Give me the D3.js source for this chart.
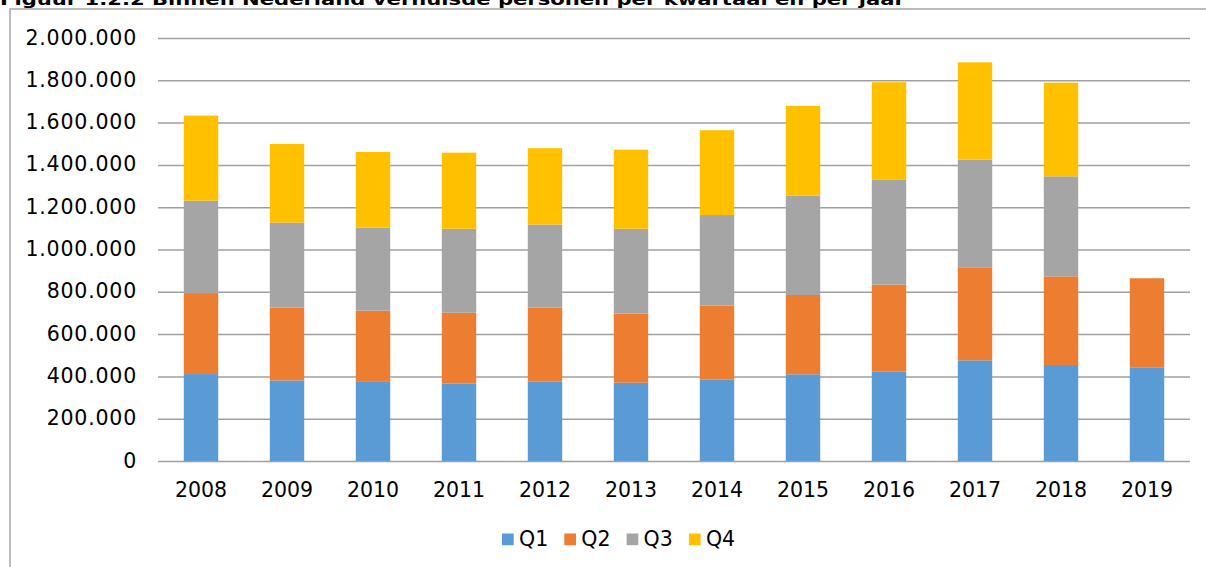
<!DOCTYPE html>
<html>
<head>
<meta charset="utf-8">
<script src="https://cdn.jsdelivr.net/npm/d3@7"></script>
<style>
    body { margin: 0; background: #fff; }
    svg { display: block; font-family: "DejaVu Sans", Verdana, sans-serif; }
</style>
</head>
<body>
<div id="chart"></div>
<script>
// ============================================================
// Data
// ============================================================
const YEARS = ['2008', '2009', '2010', '2011', '2012', '2013', '2014', '2015', '2016', '2017', '2018', '2019'];
const Q1 = [411000, 381000, 374000, 367000, 375000, 370000, 386000, 410000, 424000, 476000, 454000, 443000];
const Q2 = [383000, 344000, 337000, 334000, 351000, 327000, 349000, 375000, 410000, 440000, 419000, 421000];
const Q3 = [437000, 402000, 392000, 397000, 392000, 401000, 428000, 470000, 495000, 509000, 473000, 0];
const Q4 = [402000, 372000, 358000, 360000, 361000, 374000, 401000, 424000, 462000, 460000, 443000, 0];
const SERIES = ['Q1', 'Q2', 'Q3', 'Q4'];
const Y_TICKS = [0, 200000, 400000, 600000, 800000, 1000000, 1200000, 1400000, 1600000, 1800000, 2000000];
const TITLE = 'Figuur 1.2.2 Binnen Nederland verhuisde personen per kwartaal en per jaar';

const COLORS = {
    Q1: '#5b9bd5',
    Q2: '#ed7d31',
    Q3: '#a5a5a5',
    Q4: '#ffc000'
};

// ============================================================
// Layout
// ============================================================
const width = 1206, height = 567;
const plot = { left: 158, right: 1190, top: 38, bottom: 461 };
const fontSize = 20.5;

const nl = d3.formatLocale({ decimal: ',', thousands: '.', grouping: [3], currency: ['', ''] });
const fmt = nl.format(',d');

const svg = d3.select('#chart')
    .append('svg')
    .attr('width', width)
    .attr('height', height);

svg.append('rect')
    .attr('width', width)
    .attr('height', height)
    .attr('fill', '#fff');

// chart frame (cut off at right/bottom)
svg.append('path')
    .attr('d', `M${width},9 H10 V${height}`)
    .attr('fill', 'none')
    .attr('stroke', '#a6a6a6')
    .attr('stroke-width', 1.5);

// title, partly cut at top like in the source
svg.append('text')
    .attr('x', 0)
    .attr('y', 5)
    .attr('font-weight', 'bold')
    .attr('font-size', 15)
    .attr('textLength', 905)
    .attr('lengthAdjust', 'spacingAndGlyphs')
    .attr('fill', '#000')
    .text(TITLE);

// ============================================================
// Scales
// ============================================================
const x = d3.scaleBand()
    .domain(YEARS)
    .range([plot.left, plot.right])
    .paddingInner(0.6)
    .paddingOuter(0.3);

const y = d3.scaleLinear()
    .domain([0, 2000000])
    .range([plot.bottom, plot.top]);

// grid lines
svg.append('g')
    .attr('transform', `translate(${plot.left},0)`)
    .call(d3.axisLeft(y)
        .tickValues(Y_TICKS)
        .tickSize(-(plot.right - plot.left))
        .tickFormat(''))
    .call(g => g.select('.domain').remove())
    .call(g => g.selectAll('line')
        .attr('stroke', '#a0a0a0')
        .attr('stroke-width', 1.5));

// y labels
svg.append('g')
    .selectAll('text')
    .data(Y_TICKS)
    .join('text')
    .attr('x', 137)
    .attr('y', d => y(d) + 6.5)
    .attr('text-anchor', 'end')
    .attr('font-size', fontSize)
    .attr('letter-spacing', 0.8)
    .attr('fill', '#000')
    .text(d => fmt(d));

// ============================================================
// Stacked bars
// ============================================================
const rows = YEARS.map((yr, i) => ({ year: yr, Q1: Q1[i], Q2: Q2[i], Q3: Q3[i], Q4: Q4[i] }));
const stacked = d3.stack().keys(SERIES)(rows);

svg.append('g')
    .selectAll('g')
    .data(stacked)
    .join('g')
    .attr('fill', d => COLORS[d.key])
    .selectAll('rect')
    .data(d => d.filter(s => s[1] > s[0]))
    .join('rect')
    .attr('x', d => x(d.data.year))
    .attr('width', x.bandwidth())
    .attr('y', d => y(d[1]))
    .attr('height', d => y(d[0]) - y(d[1]));

// x labels
svg.append('g')
    .selectAll('text')
    .data(YEARS)
    .join('text')
    .attr('x', d => x(d) + x.bandwidth() / 2)
    .attr('y', 497)
    .attr('text-anchor', 'middle')
    .attr('font-size', fontSize)
    .attr('fill', '#000')
    .text(d => d);

// ============================================================
// Legend
// ============================================================
const legend = svg.append('g')
    .selectAll('g')
    .data(SERIES)
    .join('g')
    .attr('transform', (d, i) => `translate(${502 + i * 62.3},0)`);

legend.append('rect')
    .attr('y', 533.5)
    .attr('width', 11.7)
    .attr('height', 11.7)
    .attr('fill', d => COLORS[d]);

legend.append('text')
    .attr('x', 17)
    .attr('y', 546)
    .attr('font-size', fontSize)
    .attr('fill', '#000')
    .text(d => d);
</script>
</body>
</html>
